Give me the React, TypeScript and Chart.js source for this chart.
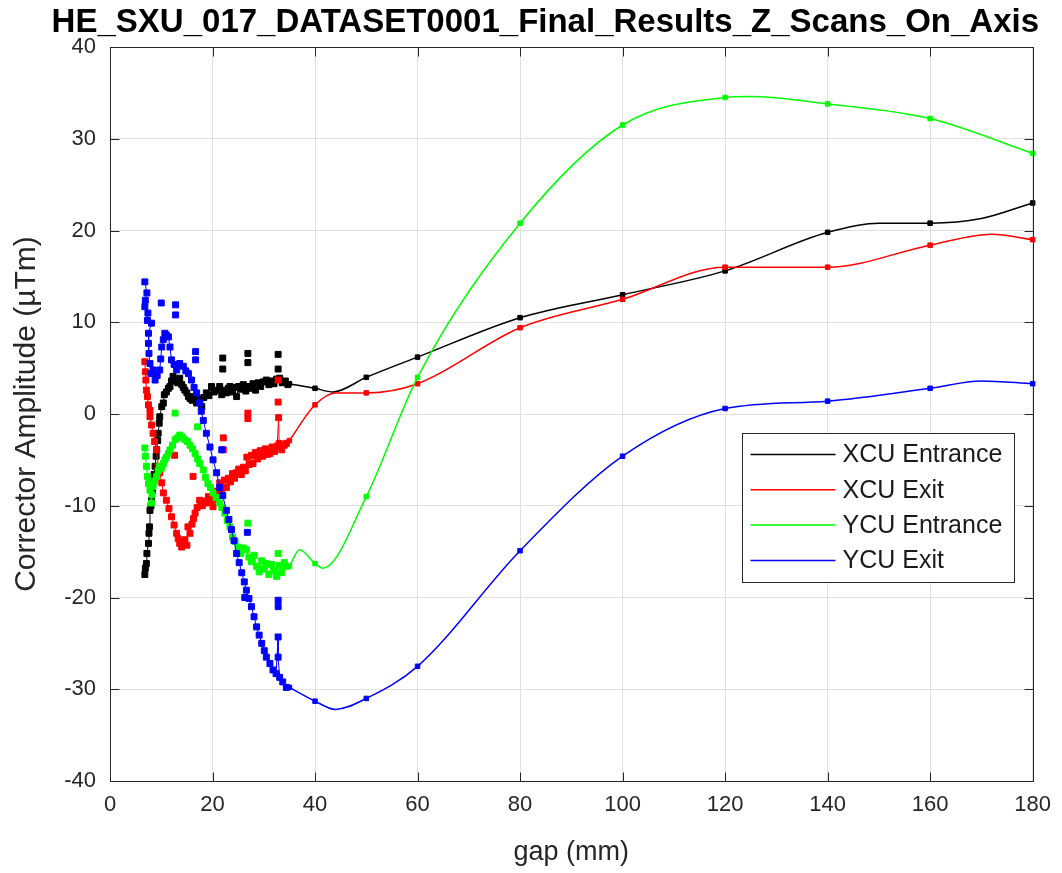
import React, { useEffect, useRef } from "react";
import { Chart, registerables } from "chart.js";

Chart.register(...registerables);

const TITLE = "HE_SXU_017_DATASET0001_Final_Results_Z_Scans_On_Axis";
const X_LABEL = "gap (mm)";
const Y_LABEL = "Corrector Amplitude (\u00b5Tm)";
const X_TICKS = [0, 20, 40, 60, 80, 100, 120, 140, 160, 180];
const Y_TICKS = [-40, -30, -20, -10, 0, 10, 20, 30, 40];
const SERIES_NAMES = ["XCU Entrance", "XCU Exit", "YCU Entrance", "YCU Exit"];
const SERIES_COLORS = ["#000000", "#ff0000", "#00ff00", "#0000ff"];
const MEASURED_GAPS = [35, 40, 50, 60, 80, 100, 120, 140, 160, 180];

// ---- XCU Entrance (black) ----
const xcuEntranceScan: [number, number][] = [
  [6.8, -17.5], [6.9, -16.8], [7.1, -16.3], [7.2, -15.2], [7.5, -14.1], [7.6, -13.0], [7.7, -12.3],
  [7.8, -10.5], [8.0, -10.0], [8.1, -9.4], [8.3, -8.3], [8.4, -7.5], [8.6, -6.6], [8.8, -5.7],
  [9.0, -4.6], [9.1, -3.9], [9.3, -2.9], [9.4, -2.1], [9.6, -1.0], [9.7, -0.3], [10.1, 0.8],
  [10.4, 1.2], [10.6, 2.1], [11.0, 2.4], [11.4, 2.8], [11.7, 3.0], [12.0, 3.6], [12.3, 4.1],
  [12.8, 3.7], [13.2, 3.4], [13.6, 3.9], [14.0, 3.2], [14.3, 2.9], [14.6, 2.6], [15.0, 2.3],
  [15.3, 1.9], [15.6, 1.7], [16.0, 1.5], [16.4, 1.9], [16.9, 1.2], [17.3, 1.6], [17.9, 0.8],
  [18.3, 1.8], [18.8, 2.3], [19.3, 2.0], [19.8, 3.0], [20.3, 2.4], [20.8, 2.6], [21.4, 3.0],
  [21.8, 2.1], [22.3, 2.6], [22.7, 2.3], [23.1, 2.8], [23.4, 3.0], [23.9, 2.4], [24.3, 2.9],
  [24.7, 1.9], [25.1, 3.0], [25.6, 2.7], [26.0, 3.2], [26.5, 2.5], [26.9, 3.0], [27.4, 2.8],
  [27.9, 3.3], [28.4, 2.6], [28.9, 3.4], [29.4, 3.0], [29.9, 3.5], [30.5, 3.7], [31.0, 3.2],
  [31.5, 3.6], [32.0, 3.3], [32.5, 3.8], [33.1, 3.9], [33.6, 3.4], [34.2, 3.6], [34.7, 3.2],
];
const xcuEntranceExtra: [number, number][] = [
  [22.0, 6.1], [22.0, 4.9], [26.9, 6.6], [26.9, 5.6], [32.8, 6.5], [32.8, 4.9],
];
const xcuEntranceFit: [number, number][] = [
  [35, 3.3], [40, 2.8], [43.5, 2.4], [50, 4.0], [60, 6.2], [80, 10.5], [100, 13.0],
  [120, 15.6], [140, 19.8], [150, 20.8], [160, 20.8], [170, 21.3], [180, 23.0],
];

// ---- XCU Exit (red) ----
const xcuExitScan: [number, number][] = [
  [6.8, 5.7], [6.9, 4.6], [7.0, 3.7], [7.1, 2.6], [7.3, 1.9], [7.5, 1.0], [7.8, 0.4], [7.8, -0.3],
  [8.1, -1.2], [8.4, -2.1], [8.7, -3.0], [9.1, -3.9], [9.4, -5.7], [9.7, -6.4], [10.1, -7.5],
  [10.4, -8.6], [11.0, -9.4], [11.5, -10.3], [12.0, -11.2], [12.5, -12.1], [13.0, -13.0],
  [13.3, -13.6], [13.6, -14.1], [14.0, -14.5], [14.3, -13.9], [14.6, -13.7], [15.0, -14.3],
  [15.2, -12.3], [15.6, -13.0], [16.0, -12.0], [16.3, -11.4], [16.6, -10.8], [17.0, -10.2],
  [17.5, -9.4], [18.0, -10.0], [18.5, -9.5], [18.8, -9.7], [19.2, -9.0], [19.5, -9.4],
  [20.1, -10.1], [20.5, -9.3], [21.0, -8.4], [21.4, -7.5], [21.8, -8.2], [22.3, -7.2],
  [22.7, -8.0], [23.1, -7.0], [23.5, -7.4], [23.9, -6.5], [24.3, -7.0], [24.7, -6.4],
  [25.1, -6.0], [25.6, -6.6], [26.0, -5.8], [26.4, -6.2], [26.7, -4.7], [27.2, -5.5],
  [27.6, -4.5], [27.9, -5.4], [28.4, -4.2], [28.8, -4.9], [29.3, -4.0], [29.8, -4.6],
  [30.3, -3.8], [30.7, -4.4], [31.2, -4.3], [31.6, -3.6], [32.1, -4.1], [32.6, -3.5],
  [32.9, -0.4], [33.0, -3.2], [33.5, -3.9], [34.0, -3.4], [34.4, -3.2],
];
const xcuExitExtra: [number, number][] = [
  [12.6, -4.5], [16.2, -6.8], [22.1, -2.6], [22.1, -3.9], [26.9, 0.1], [26.9, -0.5],
  [32.8, 3.7], [32.8, 1.3],
];
const xcuExitFit: [number, number][] = [
  [35, -2.9], [40, 1.0], [44, 2.3], [50, 2.3], [60, 3.3], [80, 9.4], [100, 12.5],
  [120, 16.0], [130, 16.0], [140, 16.0], [160, 18.4], [172, 19.6], [180, 19.0],
];

// ---- YCU Entrance (green) ----
const ycuEntranceScan: [number, number][] = [
  [6.8, -3.7], [6.9, -4.6], [7.1, -5.7], [7.3, -6.8], [7.5, -7.6], [7.8, -8.3], [8.1, -9.7],
  [8.2, -8.8], [8.4, -7.9], [8.7, -7.3], [9.1, -6.8], [9.4, -6.2], [9.7, -5.7], [10.1, -5.9],
  [10.4, -5.4], [10.7, -5.0], [11.0, -4.7], [11.4, -4.3], [11.7, -3.9], [12.2, -3.4],
  [12.7, -2.8], [13.2, -2.6], [13.6, -2.3], [14.1, -2.5], [14.6, -2.8], [15.1, -3.0],
  [15.6, -3.4], [16.1, -3.8], [16.6, -4.3], [17.1, -4.9], [17.5, -5.4], [18.2, -6.1],
  [18.6, -6.9], [19.1, -7.6], [19.6, -8.0], [20.1, -8.6], [20.7, -9.1], [21.4, -9.7],
  [21.8, -10.2], [22.4, -10.8], [22.9, -11.6], [23.4, -12.3], [23.9, -13.4], [24.4, -13.9],
  [25.0, -14.5], [25.5, -15.2], [26.0, -14.6], [26.6, -14.8], [27.1, -15.6], [27.6, -16.1],
  [28.1, -15.4], [28.6, -16.6], [29.1, -17.2], [29.6, -16.0], [30.0, -16.9], [30.5, -16.3],
  [31.0, -17.5], [31.5, -16.4], [32.0, -17.1], [32.5, -17.7], [33.0, -16.5], [33.5, -17.3],
  [34.0, -16.2], [34.4, -16.6],
];
const ycuEntranceExtra: [number, number][] = [
  [12.7, 0.1], [17.1, -1.4], [26.9, -11.9], [32.8, -15.2],
];
const ycuEntranceFit: [number, number][] = [
  [35, -16.6], [37, -14.8], [40, -16.3], [41.5, -16.8], [50, -9.0], [60, 4.0], [80, 20.8],
  [100, 31.5], [120, 34.5], [125, 34.6], [140, 33.8], [160, 32.2], [180, 28.4],
];

// ---- YCU Exit (blue) ----
const ycuExitScan: [number, number][] = [
  [6.8, 14.4], [7.2, 13.2], [6.9, 12.4], [6.8, 11.7], [7.4, 11.0], [7.3, 10.2], [8.1, 9.9],
  [7.5, 8.8], [7.5, 7.7], [7.6, 6.6], [7.8, 5.5], [8.0, 4.4], [8.4, 4.8], [8.8, 3.7],
  [9.2, 4.2], [9.7, 4.8], [9.9, 6.0], [10.1, 7.3], [10.4, 8.1], [10.7, 8.8], [11.0, 8.6],
  [11.4, 8.4], [11.7, 7.3], [12.0, 5.9], [12.5, 5.4], [13.0, 4.8], [13.6, 5.5], [14.3, 5.2],
  [14.8, 4.7], [15.3, 4.4], [15.9, 3.7], [16.4, 2.9], [16.9, 2.3], [17.5, 1.2], [17.8, 0.3],
  [18.2, -0.7], [18.8, -2.1], [19.5, -3.6], [20.1, -5.0], [20.8, -6.4], [21.4, -8.0],
  [22.0, -8.9], [22.7, -10.5], [23.2, -11.5], [23.7, -12.6], [24.2, -13.8], [24.7, -15.2],
  [25.2, -16.2], [25.7, -17.3], [26.2, -18.3], [26.6, -19.2], [27.1, -20.1], [27.6, -21.0],
  [28.1, -22.1], [28.6, -23.2], [29.1, -24.1], [29.6, -25.0], [30.1, -25.8], [30.5, -26.5],
  [31.2, -27.2], [31.8, -27.9], [32.4, -28.3], [32.8, -24.3], [32.8, -26.5], [33.1, -28.7],
  [33.7, -29.2], [34.4, -29.8],
];
const ycuExitExtra: [number, number][] = [
  [10.0, 12.1], [12.8, 11.9], [12.8, 10.8], [16.7, 5.9], [16.7, 6.8], [21.8, -3.9],
  [26.8, -12.9], [26.3, -20.0], [32.8, -20.3], [32.8, -21.0],
];
const ycuExitFit: [number, number][] = [
  [35, -29.8], [40, -31.3], [44, -32.2], [50, -31.0], [60, -27.5], [80, -14.9], [100, -4.6],
  [120, 0.6], [140, 1.4], [160, 2.8], [170, 3.6], [180, 3.3],
];

const SCANS = [xcuEntranceScan, xcuExitScan, ycuEntranceScan, ycuExitScan];
const EXTRAS = [xcuEntranceExtra, xcuExitExtra, ycuEntranceExtra, ycuExitExtra];
const FITS = [xcuEntranceFit, xcuExitFit, ycuEntranceFit, ycuExitFit];

const FONT = "'Liberation Sans', Arial, Helvetica, sans-serif";
const AXIS_COLOR = "#262626";

const toXY = (arr: [number, number][]) => arr.map(([x, y]) => ({ x, y }));

const framePlugin = {
  id: "frameAndLegend",
  afterDraw(chart: any) {
    const { ctx, chartArea: a, scales } = chart;
    ctx.save();
    ctx.strokeStyle = AXIS_COLOR;
    ctx.lineWidth = 1;
    const L = Math.round(a.left) + 0.5;
    const R = Math.round(a.right) + 0.5;
    const T = Math.round(a.top) + 0.5;
    const B = Math.round(a.bottom) + 0.5;
    ctx.beginPath();
    ctx.rect(L, T, R - L, B - T);
    ctx.stroke();
    const tl = 9;
    ctx.beginPath();
    X_TICKS.forEach((v) => {
      const x = Math.round(scales.x.getPixelForValue(v)) + 0.5;
      ctx.moveTo(x, B);
      ctx.lineTo(x, B - tl);
      ctx.moveTo(x, T);
      ctx.lineTo(x, T + tl);
    });
    Y_TICKS.forEach((v) => {
      const y = Math.round(scales.y.getPixelForValue(v)) + 0.5;
      ctx.moveTo(L, y);
      ctx.lineTo(L + tl, y);
      ctx.moveTo(R, y);
      ctx.lineTo(R - tl, y);
    });
    ctx.stroke();

    // title
    ctx.fillStyle = "#000000";
    ctx.font = `bold 33px ${FONT}`;
    ctx.textAlign = "center";
    ctx.textBaseline = "middle";
    ctx.fillText(TITLE, (a.left + a.right) / 2 - 26, a.top - 24);

    // legend box
    const bx = Math.round(a.right - 291) + 0.5;
    const by = Math.round(a.bottom - 348) + 0.5;
    const bw = 272;
    const bh = 149;
    ctx.fillStyle = "#ffffff";
    ctx.fillRect(bx, by, bw, bh);
    ctx.strokeStyle = AXIS_COLOR;
    ctx.lineWidth = 1;
    ctx.strokeRect(bx, by, bw, bh);
    ctx.font = `25px ${FONT}`;
    ctx.textAlign = "left";
    ctx.textBaseline = "middle";
    SERIES_NAMES.forEach((name, i) => {
      const y = by + 21 + i * 35.3;
      ctx.strokeStyle = SERIES_COLORS[i];
      ctx.lineWidth = 1.5;
      ctx.beginPath();
      ctx.moveTo(bx + 8, y);
      ctx.lineTo(bx + 93, y);
      ctx.stroke();
      ctx.fillStyle = "#1a1a1a";
      ctx.fillText(name, bx + 100, y + 1);
    });
    ctx.restore();
  },
};

export default function App() {
  const ref = useRef<HTMLCanvasElement | null>(null);

  useEffect(() => {
    if (!ref.current) return;
    const datasets: any[] = [];
    SERIES_NAMES.forEach((name, i) => {
      const color = SERIES_COLORS[i];
      const order = 3 - i;
      datasets.push({
        label: name,
        data: toXY(SCANS[i]),
        showLine: true,
        borderColor: color,
        backgroundColor: color,
        borderWidth: 1,
        pointStyle: "rect",
        pointRadius: 4.2,
        pointBorderWidth: 1,
        pointBackgroundColor: color,
        pointBorderColor: color,
        tension: 0,
        clip: false,
        order,
      });
      datasets.push({
        label: name + " extra",
        data: toXY(EXTRAS[i]),
        showLine: false,
        borderColor: color,
        backgroundColor: color,
        pointStyle: "rect",
        pointRadius: 4.2,
        pointBorderWidth: 1,
        pointBackgroundColor: color,
        pointBorderColor: color,
        clip: false,
        order,
      });
      datasets.push({
        label: name + " fit",
        data: toXY(FITS[i]),
        showLine: true,
        borderColor: color,
        backgroundColor: color,
        borderWidth: 1.5,
        cubicInterpolationMode: "monotone",
        pointStyle: "rect",
        pointRadius: (c: any) => (c.raw && MEASURED_GAPS.includes(c.raw.x) ? 3.2 : 0),
        pointBorderWidth: 1,
        pointBackgroundColor: color,
        pointBorderColor: color,
        clip: false,
        order,
      });
    });

    const tickFont = { family: FONT, size: 22 };
    const chart = new Chart(ref.current, {
      type: "scatter",
      data: { datasets },
      options: {
        animation: false,
        responsive: false,
        maintainAspectRatio: false,
        events: [],
        layout: { padding: { top: 47, right: 28, left: 0, bottom: 0 } },
        plugins: {
          legend: { display: false },
          tooltip: { enabled: false },
          title: { display: false },
        },
        scales: {
          x: {
            type: "linear",
            min: 0,
            max: 180,
            afterFit: (s: any) => {
              s.height = 92;
            },
            afterBuildTicks: (s: any) => {
              s.ticks = X_TICKS.map((v) => ({ value: v }));
            },
            ticks: {
              font: tickFont,
              color: AXIS_COLOR,
              padding: 11,
              maxRotation: 0,
              autoSkip: false,
            },
            grid: { color: "#e0e0e0", lineWidth: 1, drawTicks: false },
            border: { display: false },
            title: {
              display: true,
              text: X_LABEL,
              font: { family: FONT, size: 27 },
              color: AXIS_COLOR,
              padding: { top: 0, bottom: 4 },
            },
          },
          y: {
            type: "linear",
            min: -40,
            max: 40,
            afterFit: (s: any) => {
              s.width = 110;
            },
            afterBuildTicks: (s: any) => {
              s.ticks = Y_TICKS.map((v) => ({ value: v }));
            },
            ticks: {
              font: tickFont,
              color: AXIS_COLOR,
              padding: 14,
              autoSkip: false,
            },
            grid: { color: "#e0e0e0", lineWidth: 1, drawTicks: false },
            border: { display: false },
            title: {
              display: true,
              text: Y_LABEL,
              font: { family: FONT, size: 30 },
              color: AXIS_COLOR,
              padding: { top: 9, bottom: 0 },
            },
          },
        },
      },
      plugins: [framePlugin],
    });
    return () => chart.destroy();
  }, []);

  return (
    <div style={{ position: "fixed", left: 0, top: 0, width: 1062, height: 873, background: "#ffffff" }}>
      <canvas ref={ref} width={1062} height={873} style={{ display: "block", width: 1062, height: 873 }} />
    </div>
  );
}
